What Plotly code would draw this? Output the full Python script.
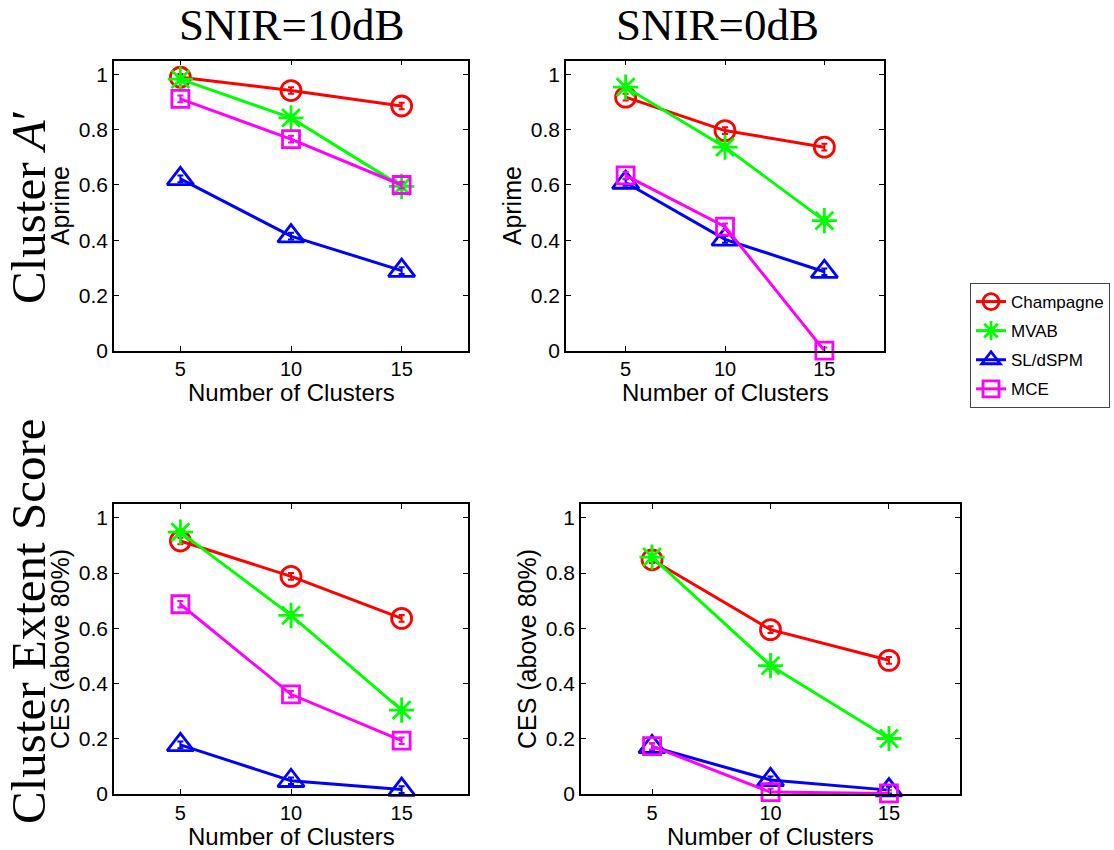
import plotly.graph_objects as go

clusters = [5, 10, 15]
methods = ["Champagne", "MVAB", "SL/dSPM", "MCE"]
colors = ["#ff0000", "#00ff00", "#0000ff", "#ff00ff"]
symbols = ["circle-open", "asterisk-open", "triangle-up-open", "square-open"]
msizes = [20, 21, 23, 17]

# Cluster A' (Aprime)
aprime_10dB = {
    "Champagne": [0.99, 0.942, 0.886],
    "MVAB": [0.983, 0.843, 0.595],
    "SL/dSPM": [0.622, 0.415, 0.29],
    "MCE": [0.912, 0.766, 0.600],
}
aprime_0dB = {
    "Champagne": [0.918, 0.797, 0.737],
    "MVAB": [0.954, 0.737, 0.471],
    "SL/dSPM": [0.609, 0.403, 0.286],
    "MCE": [0.635, 0.449, 0.0],
}
# Cluster Extent Score
ces_10dB = {
    "Champagne": [0.916, 0.788, 0.636],
    "MVAB": [0.948, 0.647, 0.304],
    "SL/dSPM": [0.178, 0.048, 0.016],
    "MCE": [0.687, 0.361, 0.193],
}
ces_0dB = {
    "Champagne": [0.848, 0.595, 0.484],
    "MVAB": [0.858, 0.465, 0.201],
    "SL/dSPM": [0.171, 0.051, 0.014],
    "MCE": [0.173, 0.007, 0.002],
}
err = [0.012, 0.012, 0.012]

col_titles = ["SNIR=10dB", "SNIR=0dB"]
row_titles = ["Cluster <i>A</i>′", "Cluster Extent Score"]
y_titles = ["Aprime", "CES (above 80%)"]
x_title = "Number of Clusters"
y_tickvals = [0, 0.2, 0.4, 0.6, 0.8, 1]
y_ticktext = ["0", "0.2", "0.4", "0.6", "0.8", "1"]

W, H = 1114, 850
# panel boxes in pixels (left, right, top, bottom)
boxes = [
    (114, 468, 60.7, 350.7),
    (566, 884, 60.7, 350.7),
    (114, 468, 504, 794),
    (581, 960, 504, 794),
]
panels = [aprime_10dB, aprime_0dB, ces_10dB, ces_0dB]

sans = "Liberation Sans, Arial, Helvetica, sans-serif"
serif = "Liberation Serif, Times New Roman, serif"

fig = go.Figure()
layout = dict(
    width=W, height=H,
    margin=dict(l=0, r=0, t=0, b=0),
    paper_bgcolor="white", plot_bgcolor="white",
    template="none",
    font=dict(family=sans, color="black"),
    showlegend=True,
)
annotations = []

for i, (data, box) in enumerate(zip(panels, boxes)):
    n = i + 1
    xa = "x" if n == 1 else f"x{n}"
    ya = "y" if n == 1 else f"y{n}"
    l, r, t, b = box
    xkey = "xaxis" if n == 1 else f"xaxis{n}"
    ykey = "yaxis" if n == 1 else f"yaxis{n}"
    layout[xkey] = dict(
        domain=[l / W, r / W], anchor=ya, range=[2, 18],
        tickvals=clusters, ticktext=[str(c) for c in clusters],
        showline=True, linecolor="black", linewidth=1.5, mirror="ticks",
        ticks="inside", ticklen=5, tickcolor="black", tickwidth=1,
        showgrid=False, zeroline=False, automargin=False,
        tickfont=dict(size=20, family=sans, color="black"),
    )
    layout[ykey] = dict(
        domain=[1 - b / H, 1 - t / H], anchor=xa, range=[0, 1.05],
        tickvals=y_tickvals, ticktext=y_ticktext,
        showline=True, linecolor="black", linewidth=1.5, mirror="ticks",
        ticks="inside", ticklen=5, tickcolor="black", tickwidth=1,
        showgrid=False, zeroline=False, automargin=False,
        tickfont=dict(size=21, family=sans, color="black"),
        title=dict(text=y_titles[i // 2], font=dict(size=25, family=sans, color="black"), standoff=2),
    )
    # x-axis title placed just below the tick labels
    annotations.append(dict(
        text=x_title, x=(l + r) / 2 / W, y=1 - (b + 42) / H, xref="paper", yref="paper",
        xanchor="center", yanchor="middle", showarrow=False,
        font=dict(size=24, family=sans, color="black"),
    ))
    for m, c, s, ms in zip(methods, colors, symbols, msizes):
        fig.add_trace(go.Scatter(
            x=clusters, y=data[m], xaxis=xa, yaxis=ya,
            mode="lines+markers", name=m, showlegend=(i == 0), legendgroup=m,
            line=dict(color=c, width=3),
            marker=dict(symbol=s, size=ms, color=c, line=dict(color=c, width=2.8)),
            error_y=dict(type="data", array=err, color=c, thickness=2, width=3, visible=True),
            cliponaxis=False,
        ))

# column titles
for txt, cx in zip(col_titles, [291, 717]):
    annotations.append(dict(
        text=txt, x=cx / W, y=1 - 25 / H, xref="paper", yref="paper",
        xanchor="center", yanchor="middle", showarrow=False,
        font=dict(size=45, family=serif, color="black"),
    ))
# row titles
for txt, cy in zip(row_titles, [207, 621]):
    annotations.append(dict(
        text=txt, x=28 / W, y=1 - cy / H, xref="paper", yref="paper",
        xanchor="center", yanchor="middle", showarrow=False, textangle=-90,
        font=dict(size=49, family=serif, color="black"),
    ))
layout["annotations"] = annotations
layout["legend"] = dict(
    x=970 / W, y=1 - 283 / H, xanchor="left", yanchor="top",
    bgcolor="white", bordercolor="#444444", borderwidth=1,
    font=dict(size=17, family=sans, color="black"),
    tracegroupgap=4, itemwidth=30,
)

fig.update_layout(**layout)
fig.write_html("out.html")
